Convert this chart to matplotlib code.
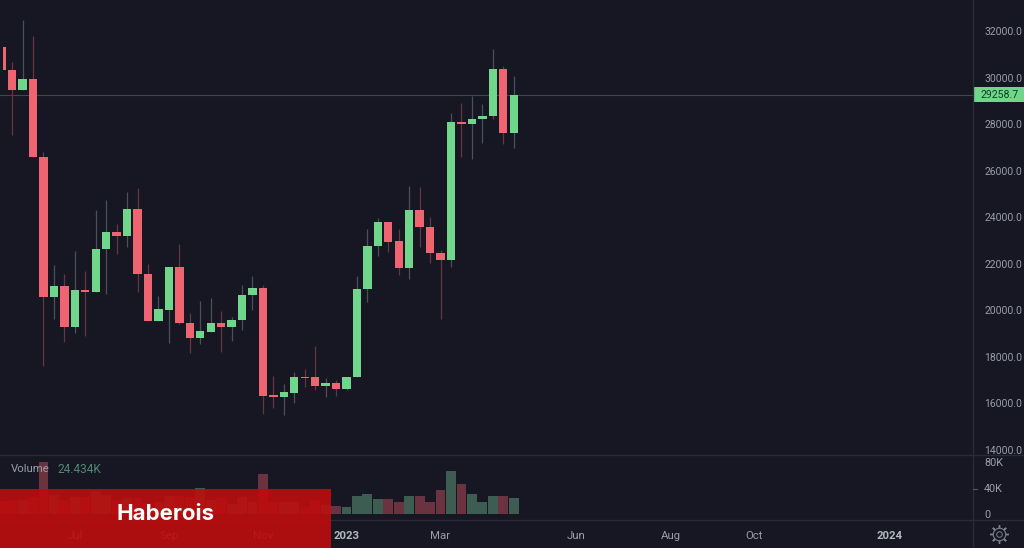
import matplotlib
matplotlib.use("Agg")
import matplotlib.pyplot as plt
import matplotlib.dates as mdates
import numpy as np
import pandas as pd

# weekly candles
opens = [31325, 30324, 29465, 29937, 26586, 20570, 21055, 19294, 20884, 20798,
         22620, 23350, 23178, 24351, 21546, 19552, 20011, 21872, 19466, 18821,
         19079, 19466, 19294, 19581, 20643, 20944, 16359, 16286, 16445, 17145,
         17132, 16758, 16862, 16630, 17145, 20901, 22749, 23793, 22976, 21803,
         24308, 23591, 22474, 22160, 28103, 28004, 28206, 28348, 30354, 27604]
highs = [31325, 30668, 32473, 31785, 26800, 21945, 21558, 22560, 21700, 24308,
         24738, 23707, 25069, 25241, 21975, 20613, 21872, 22847, 19896, 20411,
         20540, 19982, 19724, 21086, 21485, 21086, 17188, 16831, 17334, 17476,
         18465, 17102, 17004, 17145, 21473, 23479, 23965, 23793, 23479, 25340,
         25284, 24020, 22590, 28489, 28893, 29207, 28863, 31214, 30496, 30066]
lows = [30324, 27531, 29465, 26586, 17605, 19625, 18636, 19036, 18907, 20798,
        20699, 22418, 22706, 20798, 19552, 19552, 18581, 19410, 18176, 18550,
        19079, 18194, 18692, 19152, 20011, 15543, 15814, 15499, 15997, 16715,
        16574, 16260, 16316, 16574, 17145, 20368, 22345, 22516, 21515, 21331,
        22731, 22018, 19612, 21872, 26599, 26487, 27200, 28206, 27145, 26960]
closes = [30324, 29465, 29937, 26586, 20570, 21055, 19294, 20871, 20798, 22620,
          23350, 23178, 24351, 21546, 19552, 20041, 21872, 19466, 18821, 19096,
          19466, 19294, 19581, 20669, 20944, 16329, 16286, 16475, 17145, 17089,
          16758, 16862, 16630, 17145, 20901, 22749, 23793, 22946, 21803, 24308,
          23591, 22447, 22160, 28103, 28004, 28219, 28360, 30354, 27604, 29258.7]
# volume in thousands
volumes = [21, 22, 22, 27, 80, 30, 22, 27, 27, 36, 30, 22, 25, 25, 17, 19, 28, 28,
           27, 41, 22, 25, 16, 27, 19, 61, 19, 19, 19, 12, 22, 14,
           12.7, 10.7, 28, 30.5, 23, 23, 18.3, 28, 28.5, 19.4, 38, 66.5, 46, 31,
           19.4, 28, 28, 24.434]

price_ticks = [14000, 16000, 18000, 20000, 22000, 24000, 26000, 28000, 30000, 32000]
volume_ticks = [0, 40, 80]
volume_tick_labels = ["0", "40K", "80K"]
time_ticks = ["2022-07-04", "2022-09-05", "2022-11-07", "2023-01-02", "2023-03-06",
              "2023-06-05", "2023-08-07", "2023-10-02", "2024-01-01"]
time_labels = ["Jul", "Sep", "Nov", "2023", "Mar", "Jun", "Aug", "Oct", "2024"]
last_price = 29258.7

BG = "#161722"
GREEN = "#6fd68c"
RED = "#ee6470"
TEXT = "#9a9da8"
LINE = "#2a2b36"
W, H = 1024, 548

dates = pd.date_range("2022-05-16", periods=len(opens), freq="7D")
o = np.array(opens)
c = np.array(closes)
up = c >= o

plt.rcParams["font.family"] = "Roboto"
fig = plt.figure(figsize=(W / 100, H / 100), dpi=100, facecolor=BG)

ax = fig.add_axes([0, (H - 455) / H, 973 / W, 455 / H], facecolor=BG)
vol = fig.add_axes([0, (H - 520) / H, 973 / W, 65 / H], facecolor=BG, sharex=ax)

# candles
wick_colors = ["#4a505a" if u else "#643644" for u in up]
ax.vlines(dates, lows, highs, colors=wick_colors, linewidth=0.9, zorder=2)
ax.bar(dates, c - o, bottom=o, width=5.6, color=[GREEN if u else RED for u in up],
       linewidth=0, zorder=3)
ax.axhline(last_price, color="#3a4a46", linewidth=0.8, zorder=1)

# volume
vol.bar(dates, volumes, width=6.6, color=["#3d5c52" if u else "#6b3340" for u in up],
        linewidth=0)

# scales: pixel 0 sits 0.16 week before the first candle, one candle is 10.449 px
day0 = mdates.date2num(dates[0])
px_day = 10.449 / 7
ax.set_xlim(day0 - 1.7 / px_day, day0 + (973 - 1.7) / px_day)
ax.set_ylim(13781, 33332)
vol.set_ylim(-8.5, 90.6)

for a in (ax, vol):
    a.yaxis.tick_right()
    for s in a.spines.values():
        s.set_visible(False)

ax.set_yticks(price_ticks)
ax.set_yticklabels([f"{p:.1f}" for p in price_ticks])
ax.tick_params(axis="y", length=0, pad=8, labelsize=7.5, labelcolor=TEXT)
ax.tick_params(axis="x", length=0, labelbottom=False)

vol.set_yticks(volume_ticks)
vol.set_yticklabels(volume_tick_labels)
vol.tick_params(axis="y", length=0, pad=8, labelsize=7.8, labelcolor=TEXT)
vol.set_xticks(pd.to_datetime(time_ticks))
vol.set_xticklabels(time_labels)
vol.tick_params(axis="x", length=0, pad=8, labelsize=8.2, labelcolor=TEXT)
for t in vol.get_xticklabels():
    if t.get_text().startswith("20"):
        t.set_fontweight("bold")
        t.set_color("#b4b7c0")

# overlay in pixel coords for separators, labels, price tag, gear and banner
ov = fig.add_axes([0, 0, 1, 1], zorder=10)
ov.set_xlim(0, W)
ov.set_ylim(H, 0)
ov.axis("off")
ov.patch.set_alpha(0)
ov.plot([973, 973], [0, 548], color=LINE, linewidth=1)
ov.plot([0, 1024], [455, 455], color=LINE, linewidth=1)
ov.plot([0, 1024], [520, 520], color=LINE, linewidth=1)
ov.plot([973, 977], [488.5, 488.5], color="#565963", linewidth=0.8)

# first candle is cut off at the chart's left edge
ov.add_patch(plt.Rectangle((0, 40), 2.7, 36, facecolor=BG, linewidth=0))

ov.text(11, 469.5, "Volume", color=TEXT, fontsize=8.2, va="center")
ov.text(57, 469.5, "24.434K", color="#4f8a70", fontsize=8.6, va="center")

ov.add_patch(plt.Rectangle((973, 87), 51, 15, color=GREEN, linewidth=0))
ov.text(999.5, 94.5, f"{last_price:.1f}", color="#123c22", fontsize=7.6, ha="center", va="center")

# gear icon
ov.plot([999], [534], marker=(8, 2, 0), markersize=13.5, markeredgecolor="#7d808a",
        markeredgewidth=1.0)
ov.plot([999], [534], marker="o", markersize=9, markerfacecolor=BG,
        markeredgecolor="#7d808a", markeredgewidth=0.8)
ov.plot([999], [534], marker="o", markersize=4, markerfacecolor=BG,
        markeredgecolor="#7d808a", markeredgewidth=0.7)

# watermark banner
ov.add_patch(plt.Rectangle((0, 489), 331, 59, facecolor="#be0c0c", alpha=0.9, linewidth=0,
                           zorder=5))
ov.text(166, 514.5, "Haberois", color="white", fontsize=16, fontweight="bold",
        family="Inter", ha="center", va="center", zorder=6)

fig.savefig("out.png", dpi=100, facecolor=BG)
